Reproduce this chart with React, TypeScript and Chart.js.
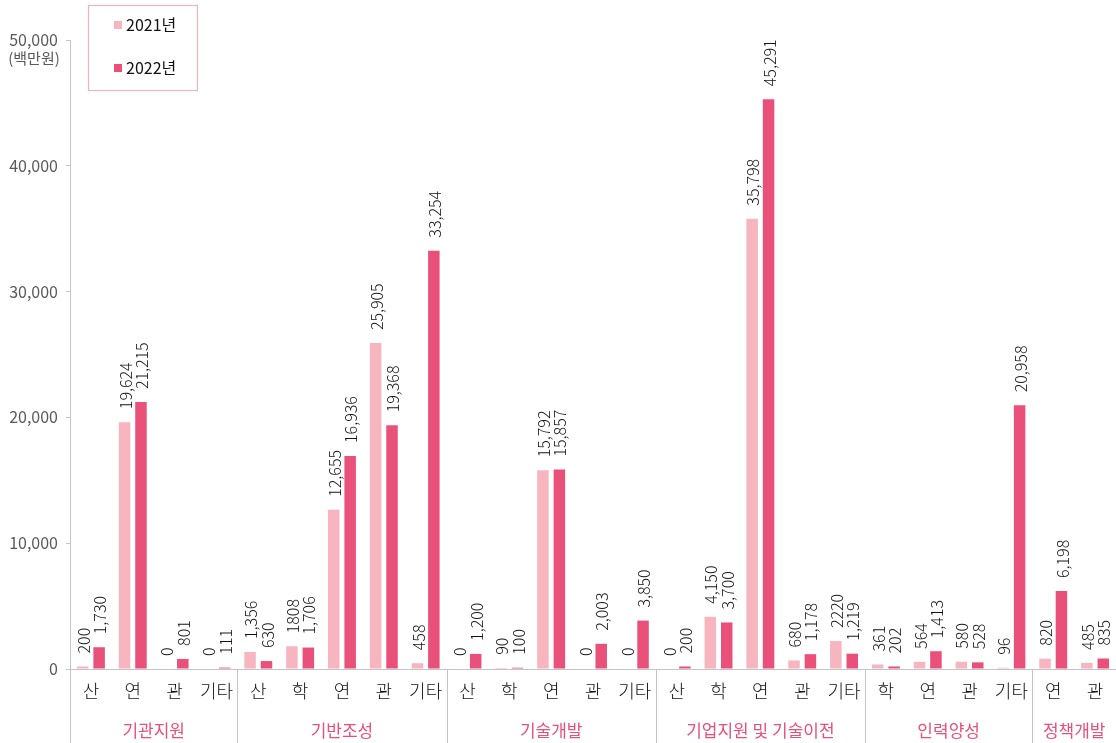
import React, { useEffect, useRef } from "react";
import { Chart, registerables } from "chart.js";
Chart.register(...registerables);

const subCategories = ["산", "연", "관", "기타", "산", "학", "연", "관", "기타", "산", "학", "연", "관", "기타", "산", "학", "연", "관", "기타", "학", "연", "관", "기타", "연", "관"];
const groups = ["기관지원", "기반조성", "기술개발", "기업지원 및 기술이전", "인력양성", "정책개발"];
const groupSizes = [4, 5, 5, 5, 4, 2];
const seriesNames = ["2021년", "2022년"];
const values2021 = [200, 19624, 0, 0, 1356, 1808, 12655, 25905, 458, 0, 90, 15792, 0, 0, 0, 4150, 35798, 680, 2220, 361, 564, 580, 96, 820, 485];
const values2022 = [1730, 21215, 801, 111, 630, 1706, 16936, 19368, 33254, 1200, 100, 15857, 2003, 3850, 200, 3700, 45291, 1178, 1219, 202, 1413, 528, 20958, 6198, 835];
const labels2021 = ["200", "19,624", "0", "0", "1,356", "1808", "12,655", "25,905", "458", "0", "90", "15,792", "0", "0", "0", "4,150", "35,798", "680", "2220", "361", "564", "580", "96", "820", "485"];
const labels2022 = ["1,730", "21,215", "801", "111", "630", "1,706", "16,936", "19,368", "33,254", "1,200", "100", "15,857", "2,003", "3,850", "200", "3,700", "45,291", "1,178", "1,219", "202", "1,413", "528", "20,958", "6,198", "835"];
const yTicks = [0, 10000, 20000, 30000, 40000, 50000];
const unitLabel = "(백만원)";

const FONT = "'Noto Sans CJK KR', 'Noto Sans', sans-serif";
const C2021 = "#F6B5BF";
const C2022 = "#E9517A";
const GRAY = "#C4C4C4";
const PINK_TEXT = "#E8507A";

const overlay = {
  id: "overlay",
  afterDraw(chart: any) {
    const ctx = chart.ctx as CanvasRenderingContext2D;
    const area = chart.chartArea;
    const xs = chart.scales.x;
    const H = chart.height;
    ctx.save();

    // data labels
    const allLabels = [labels2021, labels2022];
    ctx.fillStyle = "#111";
    ctx.font = `300 16px ${FONT}`;
    ctx.textAlign = "left";
    ctx.textBaseline = "middle";
    [0, 1].forEach((di) => {
      const meta = chart.getDatasetMeta(di);
      meta.data.forEach((bar: any, i: number) => {
        ctx.save();
        ctx.translate(bar.x + 1, bar.y - 13);
        ctx.rotate(-Math.PI / 2);
        ctx.fillText(allLabels[di][i], 0, 0);
        ctx.restore();
      });
    });

    // sub-category labels
    ctx.fillStyle = "#111";
    ctx.font = `300 18px ${FONT}`;
    ctx.textAlign = "center";
    ctx.textBaseline = "middle";
    subCategories.forEach((s, i) => {
      ctx.fillText(s, xs.getPixelForValue(i), 691);
    });

    // group separators and labels
    const catW = (area.right - area.left) / subCategories.length;
    ctx.strokeStyle = GRAY;
    ctx.lineWidth = 1;
    let start = 0;
    ctx.font = `17px ${FONT}`;
    ctx.fillStyle = PINK_TEXT;
    groups.forEach((g, gi) => {
      const x0 = area.left + catW * start;
      const x1 = area.left + catW * (start + groupSizes[gi]);
      ctx.beginPath();
      ctx.moveTo(Math.round(x0) + 0.5, area.bottom);
      ctx.lineTo(Math.round(x0) + 0.5, H);
      ctx.stroke();
      ctx.fillText(g, (x0 + x1) / 2, 731);
      start += groupSizes[gi];
    });

    // unit label
    ctx.fillStyle = "#595959";
    ctx.font = `15px ${FONT}`;
    ctx.textAlign = "center";
    ctx.fillText(unitLabel, 34, 58);

    // legend
    ctx.strokeStyle = "#F2B3BD";
    ctx.lineWidth = 1.2;
    ctx.strokeRect(88.5, 5.5, 109, 85);
    const colors = [C2021, C2022];
    const ys = [25, 68];
    ctx.font = `16px ${FONT}`;
    ctx.textAlign = "left";
    ctx.textBaseline = "middle";
    seriesNames.forEach((n, i) => {
      ctx.fillStyle = colors[i];
      ctx.fillRect(114, ys[i] - 4, 8, 8);
      ctx.fillStyle = "#111";
      ctx.fillText(n, 126, ys[i]);
    });

    ctx.restore();
  },
};

export default function App() {
  const ref = useRef<HTMLCanvasElement>(null);
  useEffect(() => {
    document.body.style.margin = "0";
    const chart = new Chart(ref.current!, {
      type: "bar",
      data: {
        labels: subCategories,
        datasets: [
          {
            label: seriesNames[0],
            data: values2021,
            backgroundColor: C2021,
            borderWidth: 0,
            categoryPercentage: 0.785,
            barPercentage: 0.7,
          },
          {
            label: seriesNames[1],
            data: values2022,
            backgroundColor: C2022,
            borderWidth: 0,
            categoryPercentage: 0.785,
            barPercentage: 0.7,
          },
        ],
      },
      options: {
        responsive: false,
        animation: false,
        devicePixelRatio: 1,
        layout: { padding: { top: 40, right: 0, left: 0, bottom: 0 } },
        plugins: { legend: { display: false }, tooltip: { enabled: false } },
        scales: {
          x: {
            grid: { display: false },
            border: { display: true, color: GRAY, width: 1 },
            ticks: { display: false },
            afterFit: (s: any) => {
              s.height = 74;
            },
          },
          y: {
            min: 0,
            max: 50000,
            afterBuildTicks: (s: any) => {
              s.ticks = yTicks.map((v) => ({ value: v }));
            },
            grid: { drawOnChartArea: false, drawTicks: true, tickLength: 4, color: GRAY },
            border: { display: true, color: GRAY, width: 1 },
            ticks: {
              color: "#595959",
              font: { size: 16, family: FONT },
              padding: 8,
              callback: (v: any) => Number(v).toLocaleString("en-US"),
            },
            afterFit: (s: any) => {
              s.width = 70;
            },
          },
        },
      },
      plugins: [overlay],
    });
    return () => chart.destroy();
  }, []);
  return (
    <div style={{ position: "absolute", left: 0, top: 0, width: 1116, height: 743 }}>
      <canvas ref={ref} width={1116} height={743} style={{ width: 1116, height: 743 }} />
    </div>
  );
}
